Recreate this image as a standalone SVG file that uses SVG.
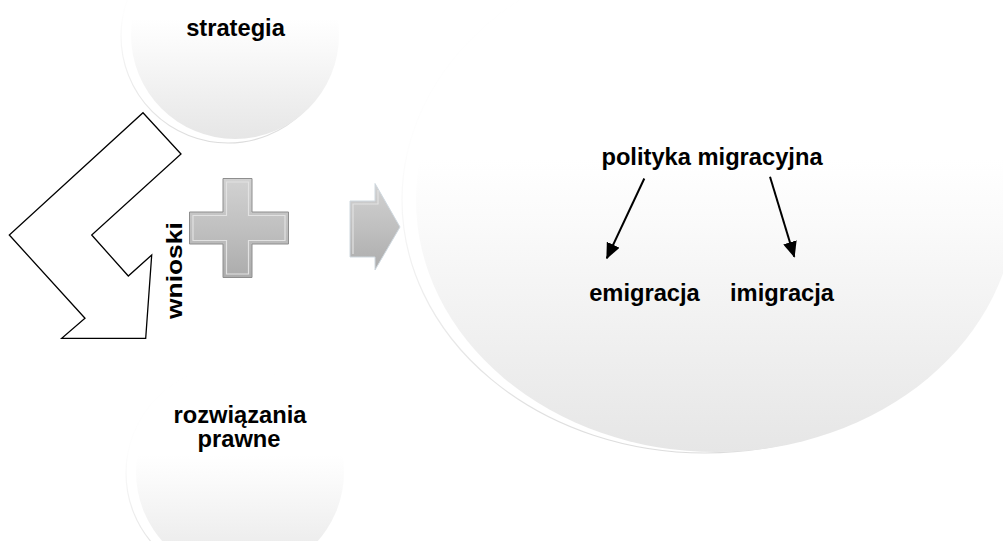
<svg xmlns="http://www.w3.org/2000/svg" width="1003" height="541" viewBox="0 0 1003 541">
  <style>
    .lbl { font-family: "Liberation Sans", Arial, sans-serif; font-weight: bold; font-size: 23.7px; fill: #000; }
    .rim { fill: #fff; stroke: url(#rimGrad); stroke-width: 1.2; }
    .chev { fill: #fff; stroke: #000; stroke-width: 1.3; stroke-linejoin: miter; }
    .metal { fill: url(#metalGrad); stroke: #8e8e8e; stroke-width: 1; }
    .bevel { fill: none; stroke: #e2e2e2; stroke-width: 1.2; }
    .conn { stroke: #000; stroke-width: 2; fill: none; }
  </style>
  <defs>
    <linearGradient id="ballGrad" x1="0" y1="0" x2="0" y2="1">
      <stop offset="0" stop-color="#ffffff"/>
      <stop offset="0.42" stop-color="#ffffff"/>
      <stop offset="0.55" stop-color="#fafafa"/>
      <stop offset="0.75" stop-color="#f1f1f1"/>
      <stop offset="1" stop-color="#e6e6e6"/>
    </linearGradient>
    <linearGradient id="rimGrad" x1="0" y1="0" x2="0" y2="1">
      <stop offset="0" stop-color="#ffffff"/>
      <stop offset="0.4" stop-color="#fdfdfd"/>
      <stop offset="0.7" stop-color="#ececec"/>
      <stop offset="1" stop-color="#dcdcdc"/>
    </linearGradient>
    <linearGradient id="metalGrad" x1="0" y1="0" x2="0" y2="1">
      <stop offset="0" stop-color="#d2d2d2"/>
      <stop offset="0.5" stop-color="#c0c0c0"/>
      <stop offset="1" stop-color="#acacac"/>
    </linearGradient>
    <marker id="ah" viewBox="0 0 16 14" refX="15" refY="7" markerWidth="16" markerHeight="14" markerUnits="userSpaceOnUse" orient="auto">
      <path d="M0,0 L16,7 L0,14 Z" fill="#000"/>
    </marker>
  </defs>

  <rect x="0" y="0" width="1003" height="541" fill="#fff"/>

  <g id="node-strategia">
    <circle class="rim" cx="228" cy="36" r="107"/>
    <circle cx="235" cy="35" r="104" fill="url(#ballGrad)"/>
    <text class="lbl" x="235.5" y="36" text-anchor="middle">strategia</text>
  </g>

  <g id="node-rozwiazania">
    <circle class="rim" cx="233" cy="473" r="107"/>
    <circle cx="240" cy="472" r="104" fill="url(#ballGrad)"/>
    <text class="lbl" x="240" y="423" text-anchor="middle">rozwiązania</text>
    <text class="lbl" x="239" y="447" text-anchor="middle">prawne</text>
  </g>

  <g id="node-polityka">
    <ellipse class="rim" cx="705" cy="200" rx="303" ry="253"/>
    <ellipse cx="716" cy="200" rx="300" ry="252" fill="url(#ballGrad)"/>
    <text class="lbl" x="712" y="165" text-anchor="middle">polityka migracyjna</text>
    <text class="lbl" x="644.5" y="301" text-anchor="middle">emigracja</text>
    <text class="lbl" x="782" y="301" text-anchor="middle">imigracja</text>
  </g>

  <g id="node-wnioski">
    <polygon class="chev" points="143,112.7 181,154 91.7,235 128.3,276 151.7,255 145.7,338.3 61.7,338.3 85,318.3 9.3,235"/>
    <text class="lbl" style="font-size:22px" transform="translate(182,319) rotate(-90) scale(1.2,1)" x="0" y="0">wnioski</text>
  </g>

  <g id="node-plus">
    <polygon class="metal" points="223,178.5 252,178.5 252,212 288.5,212 288.5,244 252,244 252,277.5 223,277.5 223,244 189.5,244 189.5,212 223,212"/>
    <polygon class="bevel" points="226.5,182 248.5,182 248.5,215.5 285,215.5 285,240.5 248.5,240.5 248.5,274 226.5,274 226.5,240.5 193,240.5 193,215.5 226.5,215.5"/>
  </g>

  <g id="node-arrow">
    <polygon class="metal" style="stroke:#cfd8df" points="350,201 375,201 375,183.5 400,227 375,270 375,257 350,257"/>
    <polyline class="bevel" points="353,254 353,204 378,204 378,190"/>
  </g>

  <g id="connectors">
    <line class="conn" x1="644.3" y1="178.5" x2="606.8" y2="258.3" marker-end="url(#ah)"/>
    <line class="conn" x1="770" y1="176.7" x2="794.3" y2="256.7" marker-end="url(#ah)"/>
  </g>
</svg>
